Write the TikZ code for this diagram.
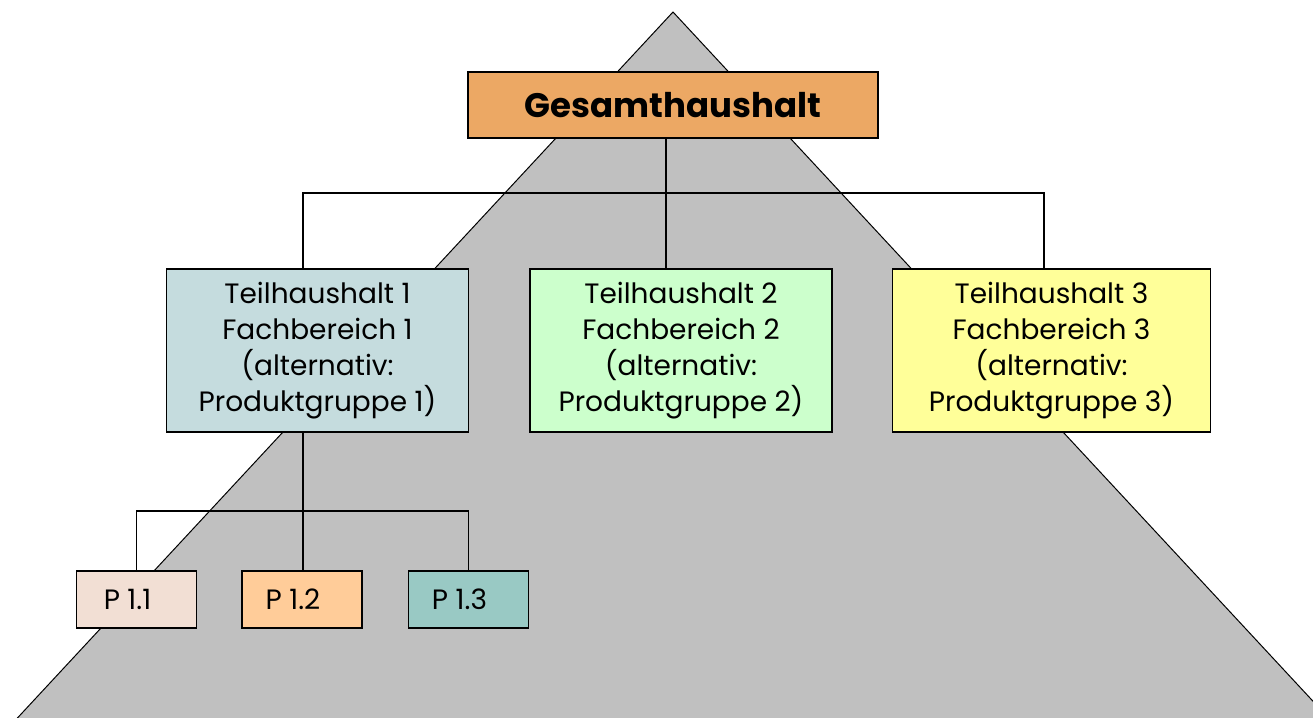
\documentclass[tikz,border=0pt]{standalone}
\usepackage{fontspec}
\setmainfont{Poppins}
\usetikzlibrary{positioning}

\definecolor{pyramid}{RGB}{192,192,192}
\definecolor{gesamt}{RGB}{236,168,100}
\definecolor{teil1}{RGB}{197,220,222}
\definecolor{teil2}{RGB}{204,255,204}
\definecolor{teil3}{RGB}{255,255,153}
\definecolor{prod1}{RGB}{242,223,212}
\definecolor{prod2}{RGB}{255,204,153}
\definecolor{prod3}{RGB}{153,201,196}

\begin{document}
\begin{tikzpicture}[x=1pt, y=-1pt, line width=1.3pt,
    box/.style = {draw, line width=1.5pt, inner sep=0pt, align=center,
      font=\fontsize{28}{36}\selectfont},
    teil/.style = {box, minimum width=302pt, minimum height=163pt},
    prod/.style = {box, minimum width=120pt, minimum height=57pt}]
    \useasboundingbox (0,0) rectangle (1313,717);
    \fill[white] (0,0) rectangle (1313,717);
    \filldraw[fill=pyramid, line width=1pt] (-3,740) -- (673,12) -- (1349,740);

    \node[box, fill=gesamt, minimum width=410pt, minimum height=66pt,
      font=\fontsize{34}{40}\selectfont\bfseries] (G) at (673,105) {Gesamthaushalt};
    \node[teil, fill=teil1] (T1) at (317.5,350.5) {Teilhaushalt 1\\Fachbereich 1\\(alternativ:\\Produktgruppe 1)};
    \node[teil, fill=teil2] (T2) [right=60pt of T1] {Teilhaushalt 2\\Fachbereich 2\\(alternativ:\\Produktgruppe 2)};
    \node[teil, fill=teil3, minimum width=318pt] (T3) [right=59pt of T2] {Teilhaushalt 3\\Fachbereich 3\\(alternativ:\\Produktgruppe 3)};
    \node[prod, fill=prod1] (P1) at (136.5,599.5) {P 1.1\hspace{18pt}};
    \node[prod, fill=prod2] (P2) [right=44pt of P1] {P 1.2\hspace{18pt}};
    \node[prod, fill=prod3] (P3) [right=45pt of P2] {P 1.3\hspace{18pt}};

    \coordinate (bus) at (0,193);
    \coordinate (subbus) at (0,511);
    \coordinate (g) at ([xshift=-7pt]G.south);
    \coordinate (t1) at ([xshift=-14.5pt]T1.north);
    \coordinate (t2) at ([xshift=-15pt]T2.north);
    \coordinate (t3) at ([xshift=-7.5pt]T3.north);
    \coordinate (t1s) at ([xshift=-14.5pt]T1.south);

    \draw (g) -- (t2);
    \draw (t1) |- (bus -| t3) -- (t3);
    \draw (t1s) -- (t1s |- P2.north);
    \draw (P1.north) |- (subbus -| P3.north) -- (P3.north);
\end{tikzpicture}
\end{document}
